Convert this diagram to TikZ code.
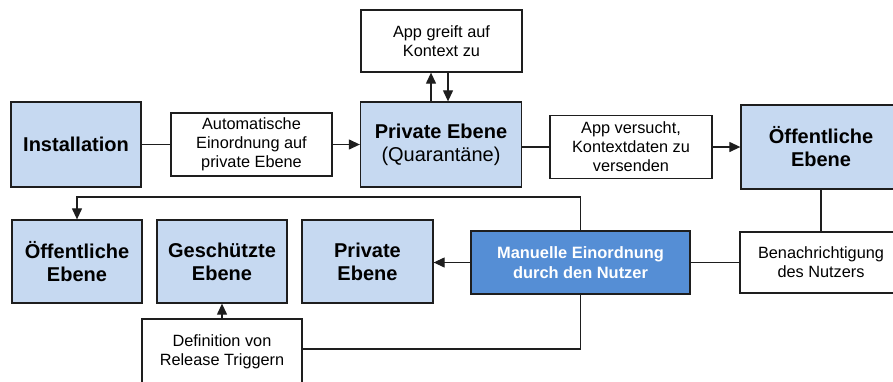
\documentclass[tikz,border=0pt]{standalone}
\usepackage{fontspec}
\setmainfont{Liberation Sans}
\usetikzlibrary{arrows.meta}
\definecolor{paleblue}{HTML}{C6D9F1}
\definecolor{midblue}{HTML}{558ED5}
\definecolor{edge}{HTML}{1E1E1E}
\tikzset{
  base/.style={draw=edge, line width=1.3pt, rectangle, inner sep=0pt, align=center},
  level/.style={base, fill=paleblue, font=\fontsize{20}{23}\selectfont\bfseries},
  event/.style={base, fill=white, font=\fontsize{16.3}{19}\selectfont},
  manual/.style={base, fill=midblue, text=white, font=\fontsize{16.4}{20}\selectfont\bfseries},
  conn/.style={draw=edge, line width=1.2pt},
  arr/.style={conn, -{Triangle[length=11pt,width=10pt]}}
}
\begin{document}
\begin{tikzpicture}[x=1pt, y=-1pt]
\useasboundingbox (0,0) rectangle (893,381);
\begin{scope}
\clip (0,0) rectangle (893,381);
% upper row
\node[level, minimum width=130, minimum height=85] (inst) at (76,144.5) {Installation};
\node[event, minimum width=161, minimum height=63] (auto) at (251.5,144.5) {Automatische\\Einordnung auf\\private Ebene};
\node[level, minimum width=161, minimum height=85] (priv) at (441,144.5) {Private Ebene\\\fontsize{20}{23}\selectfont\mdseries(Quarantäne)};
\node[event, minimum width=161, minimum height=62] (ctx) at (441.5,41) {App greift auf\\Kontext zu};
\node[event, minimum width=162, minimum height=63] (vers) at (631,147) {App versucht,\\Kontextdaten zu\\versenden};
\node[level, minimum width=160, minimum height=84] (pub) at (821,147) {Öffentliche\\Ebene};
% lower row
\node[event, minimum width=162, minimum height=61] (notif) at (821,262.5) {Benachrichtigung\\des Nutzers};
\node[manual, minimum width=219, minimum height=63] (man) at (580.5,262.5) {Manuelle Einordnung\\durch den Nutzer};
\node[level, minimum width=130, minimum height=83] (pub2) at (77,261.5) {Öffentliche\\Ebene};
\node[level, minimum width=130, minimum height=83] (prot) at (222,261.5) {Geschützte\\Ebene};
\node[level, minimum width=131, minimum height=83] (priv2) at (367.5,261.5) {Private\\Ebene};
\node[event, minimum width=160, minimum height=66] (def) at (222,352) {Definition von\\Release Triggern};
\coordinate (turn) at (0,197);
% connectors
\draw[conn] (inst.east) -- (auto.west);
\draw[arr] (auto.east) -- (priv.west);
\draw[arr] ([xshift=-10pt]priv.north) -- ([xshift=-10.5pt]ctx.south);
\draw[arr] ([xshift=6.5pt]ctx.south) -- ([xshift=7pt]priv.north);
\draw[conn] (priv.east |- vers.west) -- (vers.west);
\draw[arr] (vers.east) -- (pub.west);
\draw[conn] (pub.south) -- (notif.north);
\draw[conn] (notif.west) -- (man.east);
\draw[arr] (man.west) -- (man.west -| priv2.east);
\draw[arr] (man.north) -- (man.north |- turn) -| (pub2.north);
\draw[conn] (man.south) |- ([yshift=3pt]def.east);
\draw[arr] (def.north) -- (prot.south);
\end{scope}
\end{tikzpicture}
\end{document}
